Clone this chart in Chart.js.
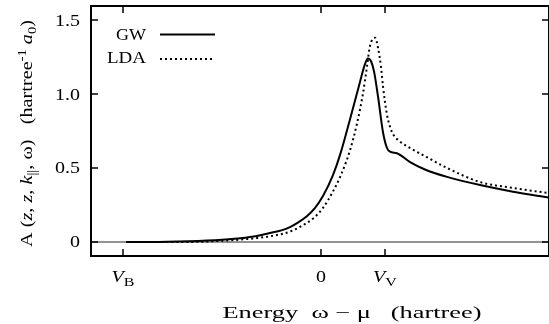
<!DOCTYPE html>
<html>
<head>
<meta charset="utf-8">
<script src="https://cdn.jsdelivr.net/npm/chart.js@4"></script>
<style>
  html, body { margin: 0; background: #fff; }
  #wrap { width: 549px; height: 324px; }
</style>
</head>
<body>
<div id="wrap"><canvas id="Chart1"></canvas></div>
<script>
// energies in hartree
const energyGW = [-0.59, -0.52, -0.40, -0.30, -0.245, -0.194, -0.145, -0.12, -0.094, -0.07, -0.042, -0.018, 0.006, 0.036, 0.058, 0.088, 0.118, 0.133, 0.142, 0.152, 0.161, 0.173, 0.188, 0.200, 0.209, 0.230, 0.270, 0.315, 0.382, 0.482, 0.582, 0.691];
const gwValues = [0, 0, 0.005, 0.015, 0.025, 0.04, 0.065, 0.078, 0.10, 0.13, 0.175, 0.23, 0.31, 0.45, 0.59, 0.83, 1.08, 1.20, 1.24, 1.22, 1.15, 0.98, 0.74, 0.635, 0.61, 0.60, 0.54, 0.49, 0.44, 0.385, 0.34, 0.30];

const energyLDA = [-0.59, -0.40, -0.297, -0.245, -0.194, -0.145, -0.094, -0.042, -0.018, 0.006, 0.036, 0.058, 0.088, 0.109, 0.127, 0.139, 0.148, 0.158, 0.164, 0.173, 0.182, 0.188, 0.200, 0.209, 0.218, 0.239, 0.270, 0.315, 0.382, 0.482, 0.582, 0.691];
const ldaValues = [0, 0, 0.008, 0.016, 0.026, 0.042, 0.07, 0.13, 0.17, 0.23, 0.34, 0.44, 0.62, 0.80, 1.0, 1.18, 1.32, 1.375, 1.38, 1.31, 1.18, 1.05, 0.86, 0.78, 0.73, 0.68, 0.635, 0.58, 0.50, 0.405, 0.365, 0.33];

const yTicks = [0, 0.5, 1.0, 1.5];
const yTickLabels = ['0', '0.5', '1.0', '1.5'];
const xTicks = [-0.6, 0, 0.194];
const xTickLabels = [{ main: 'V', sub: 'B' }, { main: '0', sub: '' }, { main: 'V', sub: 'V' }];

const FONT = '"Liberation Serif", "Times New Roman", serif';

// draw a run of text pieces (italic / sub / sup), optionally stretched or rotated
function drawRich(ctx, runs, x, y, size, opts) {
    opts = opts || {};
    ctx.save();
    ctx.translate(x, y);
    if (opts.rotate) ctx.rotate(-Math.PI / 2);
    let parts = runs.map(r => {
        let s = r.sub || r.sup ? size * (r.scale || 0.72) : size;
        let font = (r.it ? 'italic ' : '') + s + 'px ' + FONT;
        ctx.font = font;
        return { t: r.t, font, w: ctx.measureText(r.t).width, dy: r.sub ? size * 0.28 : r.sup ? -size * 0.4 : 0 };
    });
    let total = parts.reduce((a, p) => a + p.w, 0);
    let sx = opts.width ? opts.width / total : (opts.sx || 1);
    ctx.scale(sx, 1);
    let cx = opts.align === 'right' ? -total : opts.align === 'left' ? 0 : -total / 2;
    ctx.fillStyle = '#000';
    ctx.textBaseline = 'alphabetic';
    ctx.textAlign = 'left';
    parts.forEach(p => {
        ctx.font = p.font;
        ctx.fillText(p.t, cx, p.dy);
        cx += p.w;
    });
    ctx.restore();
}

const framePlugin = {
    id: 'frame',
    beforeDatasetsDraw(chart) {
        const { ctx, chartArea: a, scales: { y } } = chart;
        let y0 = y.getPixelForValue(0);
        ctx.save();
        ctx.strokeStyle = '#6e6e6e';
        ctx.lineWidth = 1.5;
        ctx.beginPath();
        ctx.moveTo(a.left, y0);
        ctx.lineTo(a.right, y0);
        ctx.stroke();
        ctx.restore();
    },
    afterDraw(chart) {
        const { ctx, chartArea: a, scales: { x, y } } = chart;
        ctx.save();
        ctx.strokeStyle = '#000';
        ctx.lineWidth = 2;
        ctx.strokeRect(a.left, a.top, a.right - a.left, a.bottom - a.top);

        // inward ticks on all four sides
        ctx.lineWidth = 1.5;
        ctx.beginPath();
        yTicks.forEach(v => {
            let p = y.getPixelForValue(v);
            ctx.moveTo(a.left, p); ctx.lineTo(a.left + 7, p);
            ctx.moveTo(a.right, p); ctx.lineTo(a.right - 7, p);
        });
        xTicks.forEach(v => {
            let p = x.getPixelForValue(v);
            ctx.moveTo(p, a.bottom); ctx.lineTo(p, a.bottom - 7);
            ctx.moveTo(p, a.top); ctx.lineTo(p, a.top + 7);
        });
        ctx.stroke();
        ctx.restore();

        yTicks.forEach((v, i) => {
            drawRich(ctx, [{ t: yTickLabels[i] }], a.left - 11, y.getPixelForValue(v) + 5.5, 16, { align: 'right', sx: 1.25 });
        });
        xTicks.forEach((v, i) => {
            let l = xTickLabels[i];
            let runs = [{ t: l.main, it: l.main === 'V' }];
            if (l.sub) runs.push({ t: l.sub, sub: true, scale: 0.8 });
            drawRich(ctx, runs, x.getPixelForValue(v), 282, 16, { align: 'center', sx: 1.25 });
        });

        drawRich(ctx, [{ t: 'Energy  \u03c9 \u2212 \u03bc   (hartree)' }], 352, 318, 16, { width: 259 });

        drawRich(ctx, [
            { t: 'A (' }, { t: 'z', it: true }, { t: ', ' }, { t: 'z', it: true }, { t: ', ' },
            { t: 'k', it: true }, { t: '||', sub: true }, { t: ', \u03c9)   (hartree' },
            { t: '-1', sup: true }, { t: ' ' }, { t: 'a', it: true }, { t: '0', sub: true }, { t: ')' }
        ], 32, 133.5, 16, { rotate: true, width: 227 });

        // legend, gnuplot style: label then sample line
        chart.data.datasets.forEach((ds, i) => {
            let base = i === 0 ? 40 : 63;
            let ly = i === 0 ? 34.5 : 59;
            drawRich(ctx, [{ t: ds.label }], 146, base, 16, { align: 'right', width: i === 0 ? 30 : 39 });
            ctx.save();
            ctx.strokeStyle = ds.borderColor;
            ctx.lineWidth = ds.borderWidth;
            ctx.setLineDash(ds.borderDash || []);
            ctx.beginPath();
            ctx.moveTo(160, ly);
            ctx.lineTo(215, ly);
            ctx.stroke();
            ctx.restore();
        });
    }
};

const ctx1 = document.getElementById('Chart1').getContext('2d');

new Chart(ctx1, {
    type: 'line',
    data: {
        datasets: [{
            label: 'GW',
            data: energyGW.map((e, i) => ({ x: e, y: gwValues[i] })),
            borderColor: '#000',
            borderWidth: 2,
            radius: 0,
            cubicInterpolationMode: 'monotone'
        }, {
            label: 'LDA',
            data: energyLDA.map((e, i) => ({ x: e, y: ldaValues[i] })),
            borderColor: '#000',
            borderWidth: 2,
            borderDash: [2, 3],
            radius: 0,
            cubicInterpolationMode: 'monotone'
        }]
    },
    options: {
        responsive: true,
        maintainAspectRatio: false,
        animation: false,
        layout: { padding: { top: 6, left: 0, right: 0, bottom: 0 } },
        plugins: { legend: { display: false }, tooltip: { enabled: false } },
        scales: {
            x: {
                type: 'linear',
                min: -0.697,
                max: 0.691,
                ticks: { display: false },
                grid: { display: false },
                border: { display: false },
                afterBuildTicks: s => { s.ticks = xTicks.map(v => ({ value: v })); },
                afterFit: s => { s.height = 68; }
            },
            y: {
                min: -0.095,
                max: 1.595,
                ticks: { display: false },
                grid: { display: false },
                border: { display: false },
                afterBuildTicks: s => { s.ticks = yTicks.map(v => ({ value: v })); },
                afterFit: s => { s.width = 91; }
            }
        }
    },
    plugins: [framePlugin]
});
</script>
</body>
</html>
